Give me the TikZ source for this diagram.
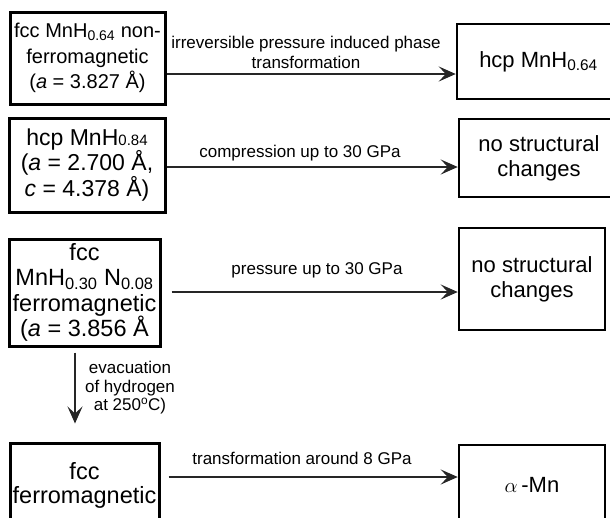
\documentclass[tikz,border=0pt]{standalone}
\usepackage{fontspec}
\setmainfont{Liberation Sans}
\usetikzlibrary{arrows.meta}
\newcommand{\smallnum}[1]{{\fontsize{15}{15}\selectfont #1}}
\begin{document}
\begin{tikzpicture}[x=1pt,y=-1pt,
  lbox/.style={draw, line width=3pt, align=center, inner sep=0pt, font=\fontsize{22}{25}\selectfont},
  rbox/.style={draw, line width=2.5pt, align=center, inner sep=0pt, font=\fontsize{22}{25}\selectfont},
  conn/.style={line width=1.5pt, draw=black!85, -{Stealth[length=17pt,width=15pt,inset=7pt]}},
  lbl/.style={align=center, inner sep=0pt, font=\fontsize{17}{20}\selectfont}]
\useasboundingbox (0,0) rectangle (610,517);
\clip (0,0) rectangle (610,517);

% left boxes
\node[lbox, minimum width=155pt, minimum height=92pt, font=\fontsize{20}{25.5}\selectfont] (b1) at (87.5,58)
  {fcc MnH\textsubscript{0.64} non-\\ferromagnetic\\(\textit{a} = 3.827 Å)};
\node[lbox, minimum width=156pt, minimum height=94pt, font=\fontsize{23}{24.5}\selectfont] (b3) at (87,165)
  {hcp MnH\smallnum{0.84}\\(\textit{a} = 2.700 Å,\\ \textit{c} = 4.378 Å)};
\node[lbox, minimum width=151pt, minimum height=107pt, font=\fontsize{23.5}{25.5}\selectfont] (b5) at (84.5,292.5)
  {fcc\\MnH\textsubscript{0.30} N\textsubscript{0.08}\\ferromagnetic\\(\textit{a} = 3.856 Å};
\node[lbox, minimum width=149pt, minimum height=84pt, font=\fontsize{23.5}{24}\selectfont] (b7) at (84.5,485)
  {fcc\\ferromagnetic};

% right boxes
\node[rbox, minimum width=163pt, minimum height=75pt] (b2) at (538.5,61.5)
  {hcp MnH\textsubscript{0.64}};
\node[rbox, minimum width=160pt, minimum height=78pt] (b4) at (539,158)
  {no structural\\changes};
\node[rbox, minimum width=146pt, minimum height=102pt] (b6) at (532,279)
  {no structural\\changes};
\node[rbox, minimum width=146pt, minimum height=80pt] (b8) at (532,485)
  {$\alpha$\,-Mn};

% helper coordinates for connector heights
\coordinate (y1) at (0,74);
\coordinate (y2) at (0,167);
\coordinate (y3) at (0,292);
\coordinate (y4) at (0,477);
\coordinate (vx) at (75,0);

% connectors
\draw[conn] (b1.east |- y1) -- (b2.west |- y1);
\draw[conn] (b3.east |- y2) -- (b4.west |- y2);
\draw[conn, shorten <=10pt] (b5.east |- y3) -- (b6.west |- y3);
\draw[conn, shorten <=8pt] (b7.east |- y4) -- (b8.west |- y4);
\draw[conn, shorten <=5pt, shorten >=18pt] (b5.south -| vx) -- (b7.north -| vx);

% labels
\node[lbl] (l1) at (306,52) {irreversible pressure induced phase\\transformation};
\node[lbl] (l2) at (300,153) {compression up to 30 GPa};
\node[lbl] (l3) at (317,270) {pressure up to 30 GPa};
\node[lbl] (l4) at (302,458) {transformation around 8 GPa};
\node[lbl, font=\fontsize{17}{18.5}\selectfont] (lv) at (130,388) {evacuation\\of hydrogen\\at 250\textsuperscript{o}C)};
\end{tikzpicture}
\end{document}
